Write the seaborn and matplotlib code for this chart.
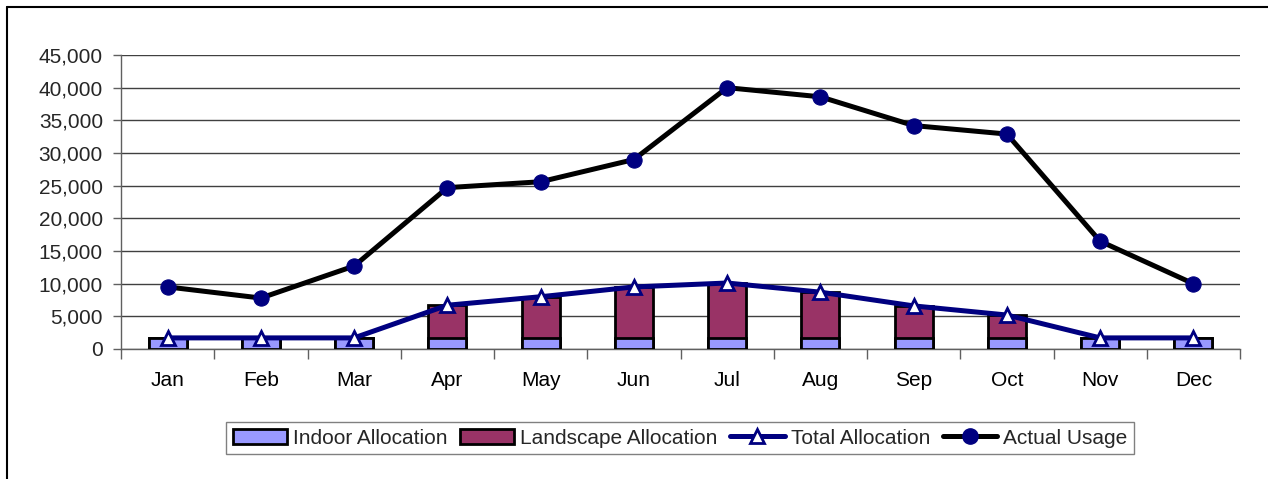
import numpy as np
import pandas as pd
import matplotlib
matplotlib.use("Agg")
import matplotlib.pyplot as plt
import seaborn as sns
from matplotlib.lines import Line2D
from matplotlib.patches import Patch
from matplotlib.ticker import FuncFormatter, MultipleLocator, FixedLocator

# -------------------- Data --------------------
months = ['Jan', 'Feb', 'Mar', 'Apr', 'May', 'Jun', 'Jul', 'Aug', 'Sep', 'Oct', 'Nov', 'Dec']
indoor = [1700, 1700, 1700, 1700, 1700, 1700, 1700, 1700, 1700, 1700, 1700, 1700]
total_alloc = [1700, 1700, 1700, 6700, 8000, 9500, 10100, 8700, 6600, 5200, 1700, 1700]
actual_usage = [9500, 7800, 12700, 24700, 25600, 29000, 40000, 38600, 34200, 32900, 16500, 10000]

INDOOR_C = '#9999FF'
LAND_C = '#993366'
NAVY = '#000080'
FS = 15

df = pd.DataFrame({'month': months, 'indoor': indoor, 'total': total_alloc, 'actual': actual_usage})
df['pos'] = np.arange(len(months))

# -------------------- Plot --------------------
sns.set_style('white')
plt.rcParams['font.family'] = ['Liberation Sans', 'DejaVu Sans']
plt.rcParams['font.size'] = FS

fig = plt.figure(figsize=(12.68, 4.79), dpi=100)
ax = fig.add_axes([121 / 1268, 130 / 479, 1119 / 1268, 294 / 479])

# landscape = total - indoor, drawn as full total bar then indoor over it
sns.barplot(data=df, x='month', y='total', color=LAND_C, width=0.41, saturation=1,
            edgecolor='black', linewidth=2, ax=ax, zorder=2)
sns.barplot(data=df, x='month', y='indoor', color=INDOOR_C, width=0.41, saturation=1,
            edgecolor='black', linewidth=2, ax=ax, zorder=3)

sns.lineplot(x=df['pos'], y=df['total'], color=NAVY, linewidth=3.6, marker='^',
             markersize=10, markerfacecolor='white', markeredgecolor=NAVY,
             markeredgewidth=2, ax=ax, zorder=4)
sns.lineplot(x=df['pos'], y=df['actual'], color='black', linewidth=3.6, marker='o',
             markersize=11, markerfacecolor=NAVY, markeredgecolor=NAVY, ax=ax, zorder=5)

ax.set_xlim(-0.5, 11.5)
ax.set_ylim(0, 45000)
ax.yaxis.set_major_locator(MultipleLocator(5000))
ax.yaxis.set_major_formatter(FuncFormatter(lambda v, p: f'{int(v):,}'))
ax.set_xlabel('')
ax.set_ylabel('')

ax.grid(axis='y', color='#404040', linewidth=1)
ax.set_axisbelow(True)
for s in ['top', 'right']:
    ax.spines[s].set_visible(False)
for s in ['left', 'bottom']:
    ax.spines[s].set_color('#606060')
    ax.spines[s].set_linewidth(1)

ax.xaxis.set_minor_locator(FixedLocator(np.arange(-0.5, 12, 1)))
ax.tick_params(axis='x', which='major', length=0, pad=16, labelsize=FS, colors='black')
ax.tick_params(axis='x', which='minor', length=7, width=1, color='#606060', direction='out', bottom=True)
ax.tick_params(axis='y', length=6, width=1, color='#606060', direction='out', pad=7,
               labelsize=FS, left=True)

handles = [
    Patch(facecolor=INDOOR_C, edgecolor='black', linewidth=2),
    Patch(facecolor=LAND_C, edgecolor='black', linewidth=2),
    Line2D([], [], color=NAVY, linewidth=3.6, marker='^', markersize=10,
           markerfacecolor='white', markeredgecolor=NAVY, markeredgewidth=2),
    Line2D([], [], color='black', linewidth=3.6, marker='o', markersize=11,
           markerfacecolor=NAVY, markeredgecolor=NAVY),
]
labels = ['Indoor Allocation', 'Landscape Allocation', 'Total Allocation', 'Actual Usage']
leg = fig.legend(handles, labels, loc='center', bbox_to_anchor=(680 / 1268, 41 / 479), ncol=4,
                 frameon=True, fancybox=False, edgecolor='#606060', handlelength=2.6,
                 handletextpad=0.3, columnspacing=0.6, borderpad=0.3, fontsize=FS)
leg.get_frame().set_linewidth(1)

# outer chart frame (left and top edges visible)
fig.add_artist(Line2D([6.5 / 1268, 6.5 / 1268], [0, 1 - 6.5 / 479], color='black', linewidth=1.5,
                      transform=fig.transFigure))
fig.add_artist(Line2D([6.5 / 1268, 1], [1 - 6.5 / 479, 1 - 6.5 / 479], color='black', linewidth=1.5,
                      transform=fig.transFigure))

fig.savefig('out.png', dpi=100)
